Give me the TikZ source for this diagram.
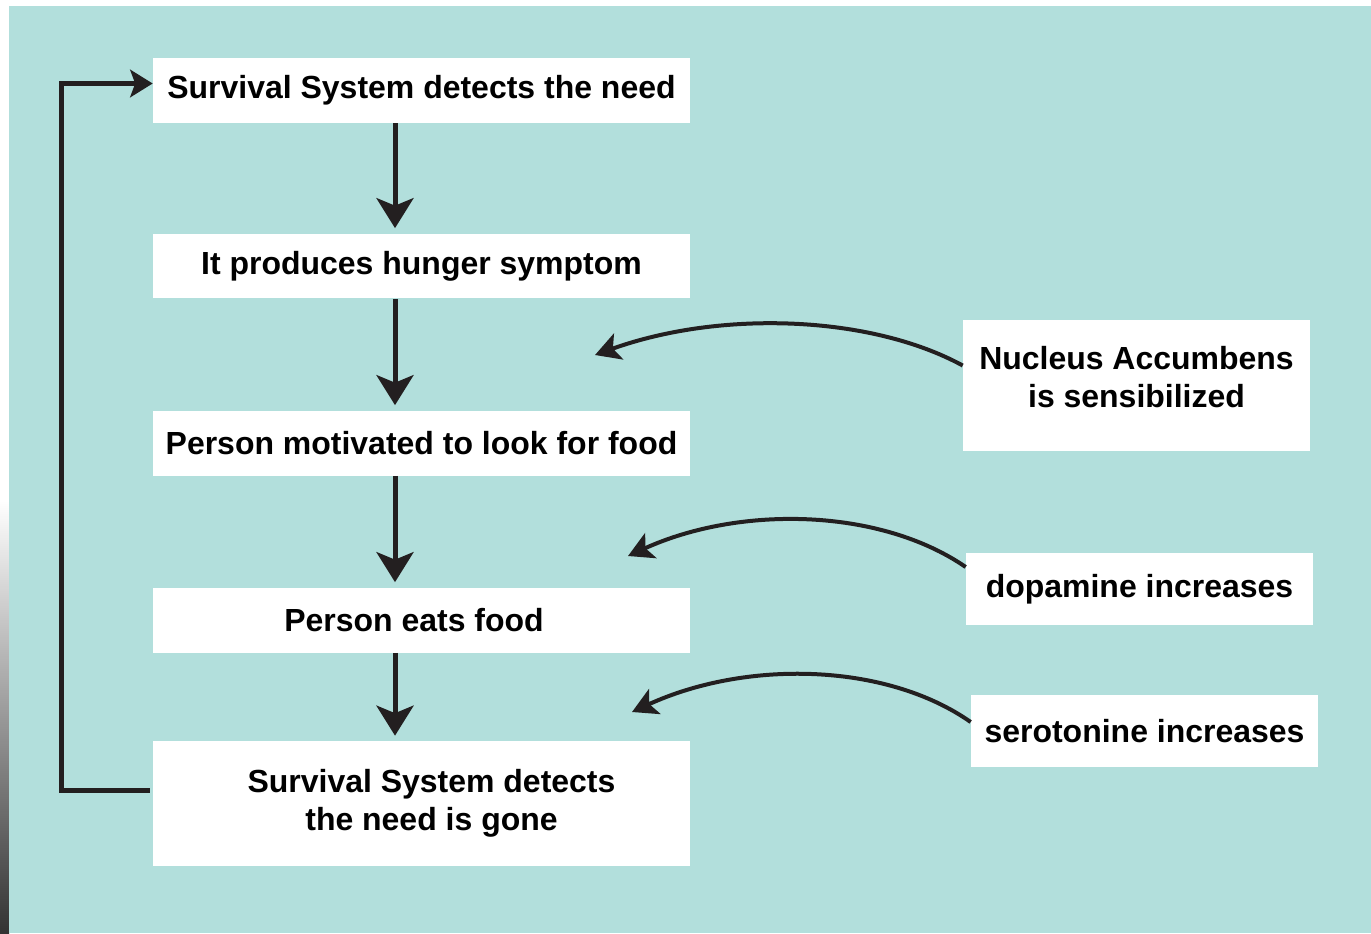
\documentclass[tikz,border=0pt]{standalone}
\usepackage{fontspec}
\setmainfont{Liberation Sans}
\usetikzlibrary{arrows.meta}

\definecolor{bgteal}{RGB}{178,223,220}
\definecolor{arrowblack}{RGB}{35,31,32}

\tikzset{
  stepbox/.style={fill=white, minimum width=10.74cm, minimum height=1.3cm, align=center,
    font=\fontsize{18.2}{21.5}\selectfont\bfseries},
  sidebox/.style={stepbox, minimum width=6.94cm, minimum height=1.44cm},
  flow/.style={draw=arrowblack, line width=0.1cm, -{Stealth[length=0.6cm, width=0.74cm, inset=0.15cm]}, shorten >=0.1cm},
  influence/.style={draw=arrowblack, line width=0.08cm, -{Stealth[length=0.5cm, width=0.55cm, inset=0.12cm]}},
  backloop/.style={draw=arrowblack, line width=0.1cm, -{Stealth[length=0.45cm, width=0.55cm, inset=0.1cm]}}
}

\begin{document}
\begin{tikzpicture}[x=0.02cm, y=-0.02cm]
  \useasboundingbox (0,0) rectangle (1371,933);
  \fill[white] (0,0) rectangle (1371,933);
  \shade[top color=white, bottom color=black!80] (0,500) rectangle (9,933);
  \fill[bgteal] (9,6) rectangle (1371,933);

  \node[stepbox] (detect) at (421.5, 90.5) {Survival System detects the need};
  \node[stepbox] (hunger) at (421.5, 266) {It produces hunger symptom};
  \node[stepbox] (motivated) at (421.5, 443) {Person motivated to look for food};
  \node[stepbox] (eats) at (421.5, 620) {\hspace*{-0.3cm}Person eats food};
  \node[stepbox, minimum height=2.5cm] (gone) at (421.5, 803.5) {\hspace*{0.4cm}Survival System detects\\\hspace*{0.4cm}the need is gone};

  \node[sidebox, minimum height=2.62cm] (nacc) at (1136.5, 385.5) {Nucleus Accumbens\\is sensibilized\\[-0.4cm]};
  \node[sidebox] (dopa) at (1139.5, 589) {dopamine increases};
  \node[sidebox] (sero) at (1144.5, 731) {serotonine increases};

  \draw[flow] ([xshift=-0.53cm]detect.south) -- ([xshift=-0.53cm]hunger.north);
  \draw[flow] ([xshift=-0.53cm]hunger.south) -- ([xshift=-0.53cm]motivated.north);
  \draw[flow] ([xshift=-0.53cm]motivated.south) -- ([xshift=-0.53cm]eats.north);
  \draw[flow] ([xshift=-0.53cm]eats.south) -- ([xshift=-0.53cm]gone.north);

  \draw[backloop] ([xshift=-0.06cm, yshift=0.27cm]gone.west) -- ++(-88,0) |- ([yshift=0.14cm]detect.west);

  \coordinate (naccend) at (595,355);
  \coordinate (dopaend) at (628,556);
  \coordinate (seroend) at (632,712);
  \draw[influence] ([yshift=0.4cm]nacc.west) .. controls (870,315) and (720,310) .. (naccend);
  \draw[influence] ([yshift=0.44cm]dopa.west) .. controls (880,508) and (740,505) .. (dopaend);
  \draw[influence] ([yshift=0.18cm]sero.west) .. controls (885,662) and (745,660) .. (seroend);
\end{tikzpicture}
\end{document}
